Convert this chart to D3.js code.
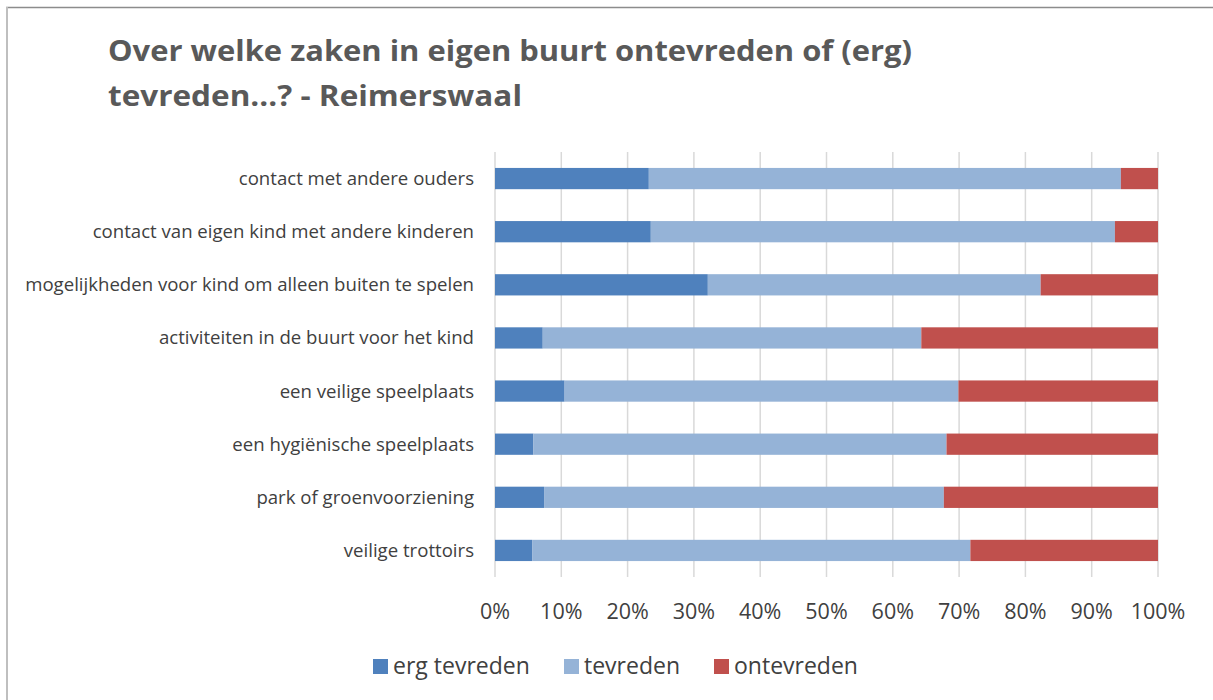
<!DOCTYPE html>
<html>
<head>
<meta charset="utf-8">
<script src="https://cdn.jsdelivr.net/npm/d3@7"></script>
<style>
  body { margin: 0; background: #fff; }
  svg { display: block; }
  text { font-family: "Open Sans", "DejaVu Sans", sans-serif; }
</style>
</head>
<body>
<div id="chart"></div>
<script>
const categories = [
  'contact met andere ouders',
  'contact van eigen kind met andere kinderen',
  'mogelijkheden voor kind om alleen buiten te spelen',
  'activiteiten in de buurt voor het kind',
  'een veilige speelplaats',
  'een hygiënische speelplaats',
  'park of groenvoorziening',
  'veilige trottoirs'
];
const seriesNames = ['erg tevreden', 'tevreden', 'ontevreden'];
const ergTevreden = [23.2, 23.5, 32.1, 7.2, 10.5, 5.8, 7.4, 5.6];
const tevreden    = [71.2, 70.0, 50.2, 57.1, 59.4, 62.3, 60.3, 66.1];
const ontevreden  = [5.6, 6.5, 17.7, 35.7, 30.1, 31.9, 32.3, 28.3];
const tickValues = [0, 10, 20, 30, 40, 50, 60, 70, 80, 90, 100];
const colors = ['#4f81bd', '#95b3d7', '#c0504d'];

const width = 1213, height = 700;
const margin = { left: 495, right: 55, top: 152, bottom: 123 };

const svg = d3.select('#chart').append('svg')
  .attr('width', width)
  .attr('height', height);

// frame
svg.append('line').attr('x1', 6).attr('x2', width).attr('y1', 7.5).attr('y2', 7.5)
  .attr('stroke', '#8c8c8c').attr('stroke-width', 1.5);
svg.append('line').attr('x1', 7).attr('x2', 7).attr('y1', 7).attr('y2', height)
  .attr('stroke', '#bfbfbf').attr('stroke-width', 2);

// title
svg.append('text')
  .attr('x', 108).attr('y', 61)
  .attr('fill', '#595959')
  .attr('font-size', 29).attr('font-weight', 700)
  .attr('textLength', 804).attr('lengthAdjust', 'spacingAndGlyphs')
  .text('Over welke zaken in eigen buurt ontevreden of (erg)');
svg.append('text')
  .attr('x', 108).attr('y', 106)
  .attr('fill', '#595959')
  .attr('font-size', 29).attr('font-weight', 700)
  .attr('textLength', 414).attr('lengthAdjust', 'spacingAndGlyphs')
  .text('tevreden...? - Reimerswaal');

const x = d3.scaleLinear().domain([0, 100]).range([margin.left, width - margin.right]);
const y = d3.scaleBand().domain(categories)
  .range([margin.top, height - margin.bottom])
  .paddingInner(0.6).paddingOuter(0.3);

// gridlines
svg.append('g')
  .selectAll('line')
  .data(tickValues)
  .join('line')
  .attr('x1', d => x(d)).attr('x2', d => x(d))
  .attr('y1', margin.top).attr('y2', height - margin.bottom)
  .attr('stroke', '#d9d9d9').attr('stroke-width', 1.5);

// stacked data
const rows = categories.map((c, i) => ({
  cat: c,
  'erg tevreden': ergTevreden[i],
  'tevreden': tevreden[i],
  'ontevreden': ontevreden[i]
}));
const stacked = d3.stack().keys(seriesNames)(rows);

svg.append('g')
  .selectAll('g')
  .data(stacked)
  .join('g')
  .attr('fill', (d, i) => colors[i])
  .selectAll('rect')
  .data(d => d)
  .join('rect')
  .attr('x', d => x(d[0]))
  .attr('width', d => x(d[1]) - x(d[0]))
  .attr('y', d => y(d.data.cat))
  .attr('height', y.bandwidth());

// category labels
svg.append('g')
  .selectAll('text')
  .data(categories)
  .join('text')
  .attr('x', 474)
  .attr('y', d => y(d) + y.bandwidth() / 2)
  .attr('dy', '0.35em')
  .attr('text-anchor', 'end')
  .attr('fill', '#404040')
  .attr('font-size', 18.6)
  .text(d => d);

// x tick labels
svg.append('g')
  .selectAll('text')
  .data(tickValues)
  .join('text')
  .attr('x', d => x(d))
  .attr('y', 619)
  .attr('text-anchor', 'middle')
  .attr('fill', '#404040')
  .attr('font-size', 21.5)
  .text(d => d + '%');

// legend
const legendX = [373, 564, 714];
const legend = svg.append('g')
  .selectAll('g')
  .data(seriesNames)
  .join('g')
  .attr('transform', (d, i) => `translate(${legendX[i]},659)`);
legend.append('rect')
  .attr('width', 15).attr('height', 15)
  .attr('fill', (d, i) => colors[i]);
legend.append('text')
  .attr('x', 20).attr('y', 15)
  .attr('fill', '#404040')
  .attr('font-size', 23)
  .text(d => d);
</script>
</body>
</html>
